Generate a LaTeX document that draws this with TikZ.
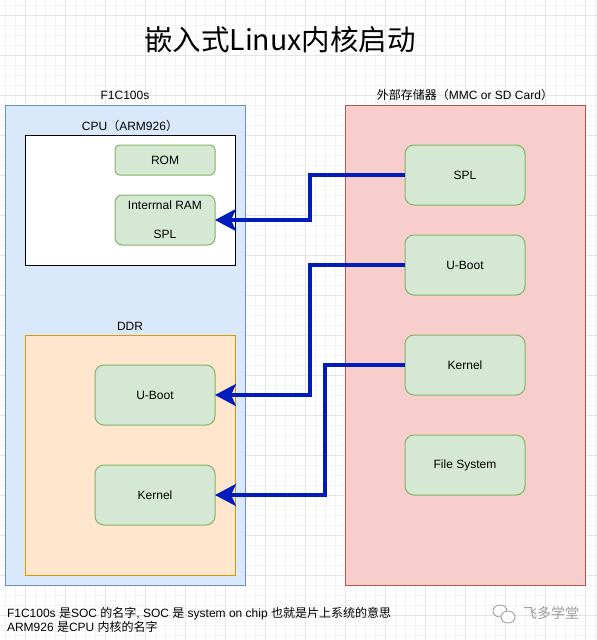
\documentclass[tikz,border=0pt]{standalone}
\usepackage{fontspec}
\setmainfont{Liberation Sans}
\newfontfamily\cjk{Noto Sans CJK SC}
\usetikzlibrary{arrows.meta}

\definecolor{gridmajor}{HTML}{E4E4E4}
\definecolor{gridminor}{HTML}{F3F3F3}
\definecolor{socfill}{HTML}{DAE8FC}
\definecolor{socline}{HTML}{6C8EBF}
\definecolor{extfill}{HTML}{F8CECC}
\definecolor{extline}{HTML}{B85450}
\definecolor{ddrfill}{HTML}{FFE6CC}
\definecolor{ddrline}{HTML}{D79B00}
\definecolor{partfill}{HTML}{D5E8D4}
\definecolor{partline}{HTML}{82B366}
\definecolor{flowblue}{HTML}{001DBC}
\definecolor{markgray}{HTML}{9A9A9A}

\begin{document}
\begin{tikzpicture}[x=1pt, y=-1pt]
\tikzset{ >={Stealth[length=21pt, width=22pt, inset=5pt]}, inner sep=0pt, outer sep=0pt,
  txt/.style={font=\fontsize{12}{14.4}\selectfont},
  area/.style={draw, line width=1pt},
  part/.style={txt, draw=partline, fill=partfill, line width=1pt, rounded corners=9pt,
               minimum width=120pt, minimum height=60pt},
  flow/.style={->, draw=flowblue, line width=4pt},
}
\useasboundingbox (0,0) rectangle (597,640);

% grid
\foreach \x in {5,15,...,595} \draw [gridminor, line width=1pt] (\x,0) -- (\x,640);
\foreach \y in {5,15,...,635} \draw [gridminor, line width=1pt] (0,\y) -- (597,\y);
\foreach \x in {25,65,...,585} \draw [gridmajor, line width=1pt] (\x,0) -- (\x,640);
\foreach \y in {15,55,...,615} \draw [gridmajor, line width=1pt] (0,\y) -- (597,\y);

\node [font=\cjk\fontsize{28.5}{34}\selectfont] (title) at (280,40) {嵌入式Linux内核启动};

\node [area, draw=socline, fill=socfill, minimum width=240pt, minimum height=480pt] (soc) at (125,345) {};
\node [area, draw=black, fill=white, minimum width=210pt, minimum height=130pt] (cpu) at (130,200) {};
\node [area, draw=ddrline, fill=ddrfill, minimum width=210pt, minimum height=240pt] (ddr) at (130,455) {};
\node [area, draw=extline, fill=extfill, minimum width=240pt, minimum height=480pt] (ext) at (465,345) {};

\node [txt] (soclabel) at (125,95) {F1C100s};
\node [txt] (cpulabel) at (130,126) {CPU{\cjk （}ARM926{\cjk ）}};
\node [txt] (ddrlabel) at (130,326) {DDR};
\node [txt] (extlabel) at (465,95) {{\cjk 外部存储器（}MMC or SD Card{\cjk ）}};

\node [part, minimum width=100pt, minimum height=30pt, rounded corners=4.5pt] (rom) at (165,160) {ROM};
\node [part, minimum width=100pt, minimum height=50pt, rounded corners=7.5pt, align=center] (ram) at (165,220) {Interrnal RAM\\[14.4pt]SPL};
\node [part] (uboot)  at (155,395) {U-Boot};
\node [part] (kernel) at (155,495) {Kernel};

\node [part] (xspl)    at (465,175) {SPL};
\node [part] (xuboot)  at (465,265) {U-Boot};
\node [part] (xkernel) at (465,365) {Kernel};
\node [part] (xfs)     at (465,465) {File System};

\draw [flow] (xspl.west)    -- ++(-95,0) |- (ram.east);
\draw [flow] (xuboot.west)  -- ++(-95,0) |- (uboot.east);
\draw [flow] (xkernel.west) -- ++(-80,0) |- (kernel.east);

\node [txt, anchor=west, align=left] (note) at (7,620)
  {F1C100s {\cjk 是}SOC {\cjk 的名字}, SOC {\cjk 是} system on chip {\cjk 也就是片上系统的意思}\\
   ARM926 {\cjk 是}CPU {\cjk 内核的名字}};

% watermark
\draw [markgray, line width=0.8pt] (500,611) ellipse (7pt and 6pt);
\draw [markgray, line width=0.8pt, fill=white] (508,617) ellipse (7pt and 6pt);
\node [font=\cjk\fontsize{14}{16}\selectfont, text=markgray] (mark) at (551,613) {飞多学堂};

\end{tikzpicture}
\end{document}
